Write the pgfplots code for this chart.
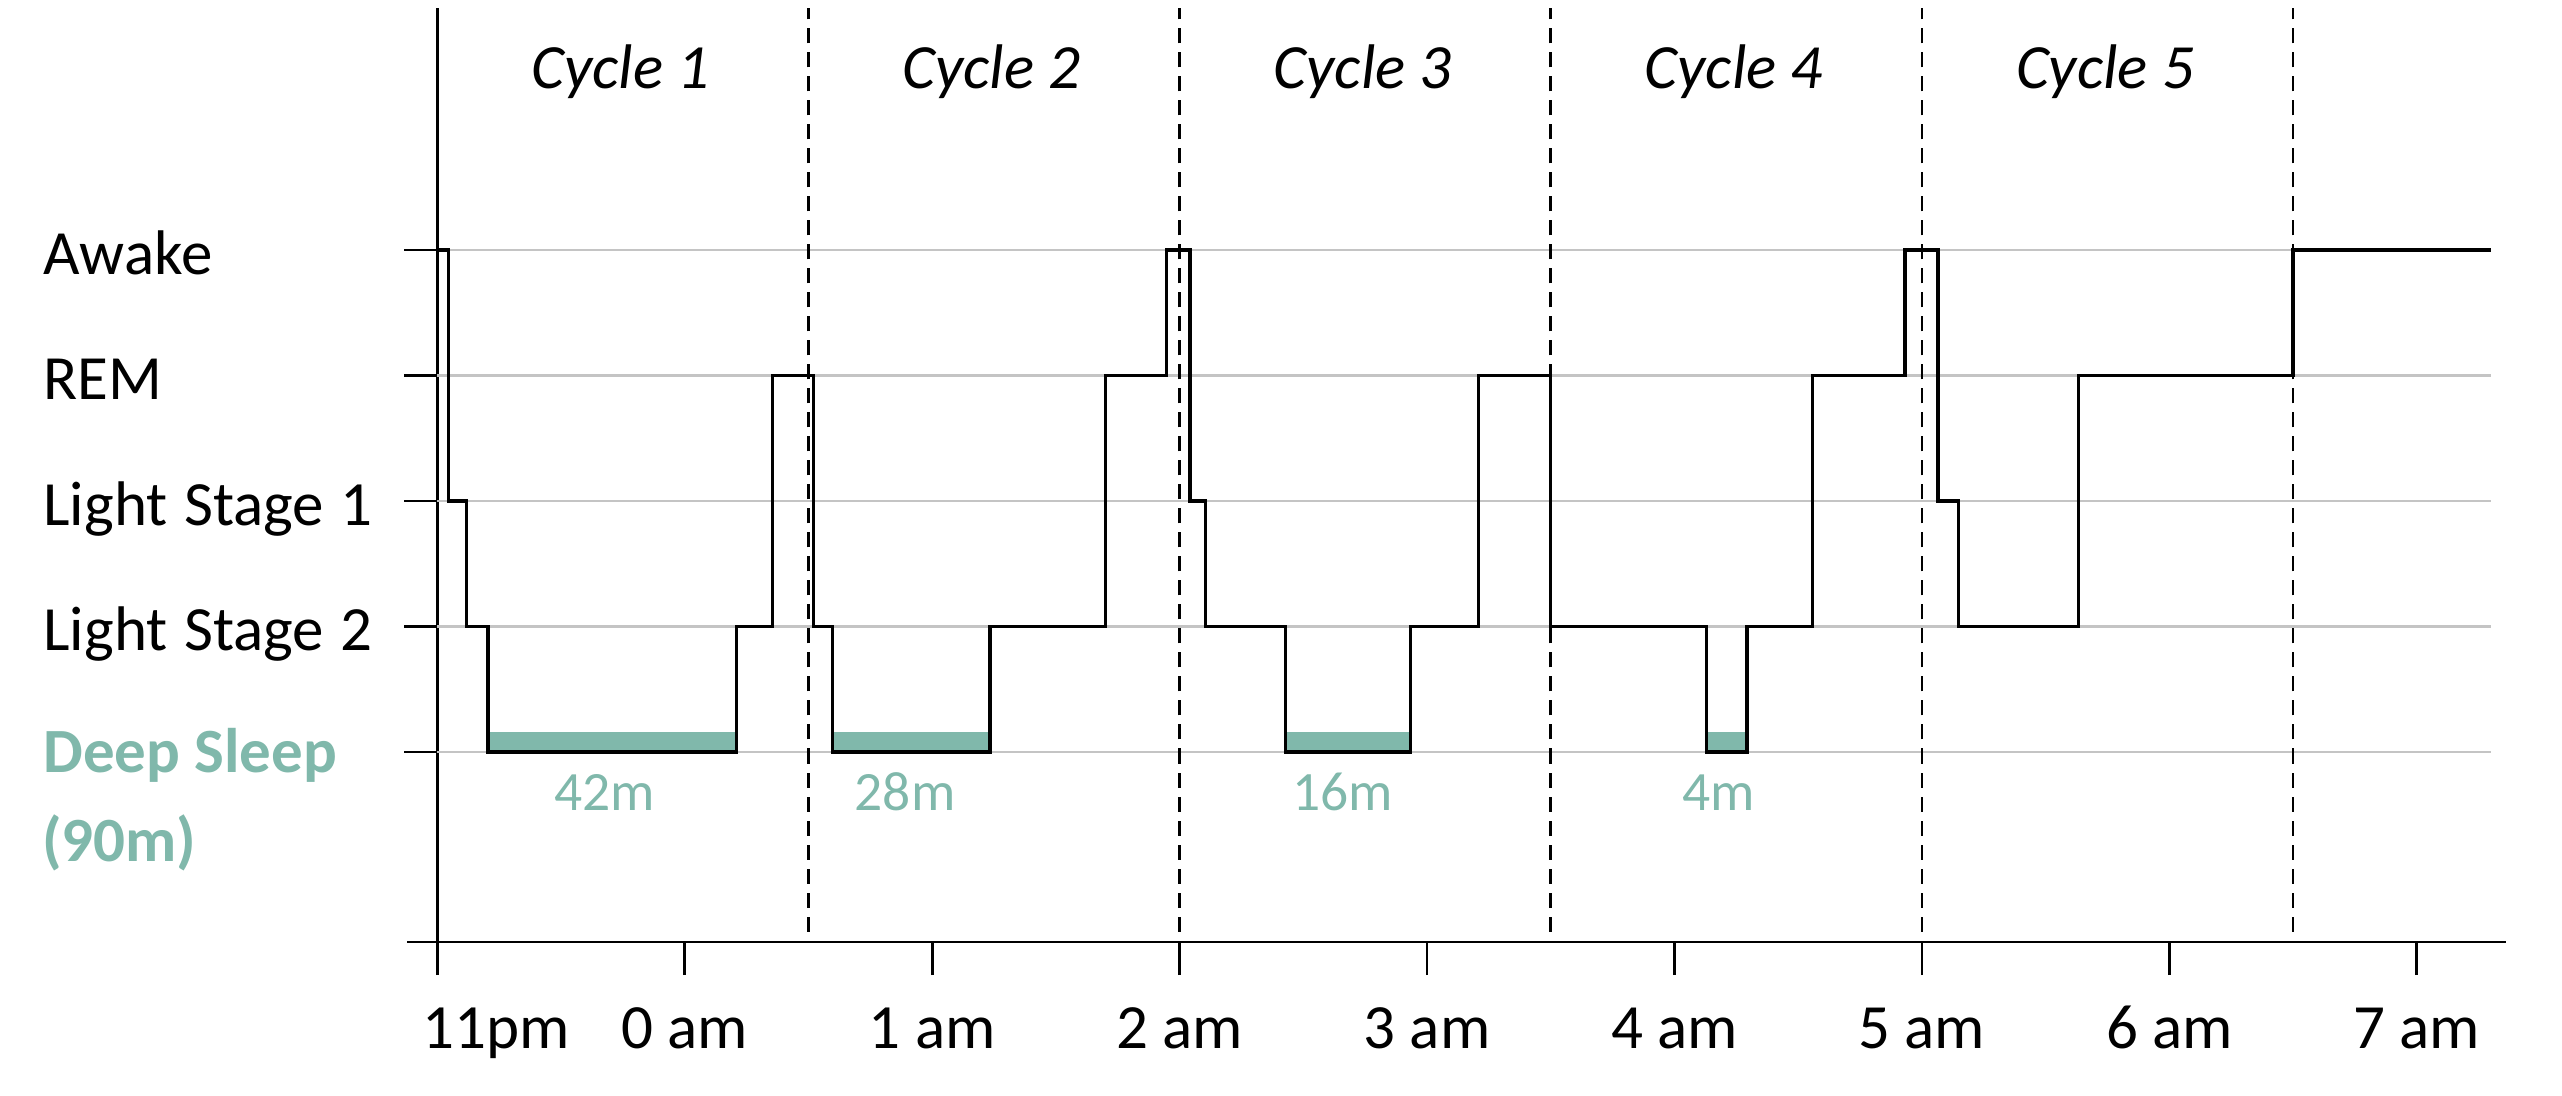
\documentclass[border=0pt]{standalone}
\usepackage{fontspec}
\setmainfont{Carlito}
\usepackage{pgfplots}
\pgfplotsset{compat=1.18}
\definecolor{deep}{HTML}{80B8AB}
\definecolor{gridgray}{HTML}{C4C4C4}

% sleep stage levels: 0 deep, 1 light 2, 2 light 1, 3 REM, 4 awake
% x = hours after 11pm
\pgfplotstableread{
x     y
0     4
0.045 2
0.118 1
0.204 0
1.209 1
1.355 3
1.520 1
1.597 0
2.233 1
2.700 3
2.947 4
3.042 2
3.104 1
3.427 0
3.932 1
4.207 3
4.500 1
5.130 0
5.293 1
5.557 3
5.932 4
6.065 2
6.147 1
6.633 3
7.500 4
8.300 4
}\stages

\begin{document}
\begin{tikzpicture}
\begin{axis}[
    scale only axis,
    width=689.4pt, height=311.4pt,
    xmin=0, xmax=8.36, ymin=-1.514, ymax=5.93,
    axis lines=left,
    axis line style={-, line width=0.9pt},
    tick align=outside,
    major tick length=11pt,
    tick style={black, line width=0.9pt},
    xtick={0,...,8},
    xticklabels={\hspace{39pt}11pm, 0 am, 1 am, 2 am, 3 am, 4 am, 5 am, 6 am, 7 am},
    ytick={0,1,2,3,4},
    yticklabels={{\raisebox{1.3pt}{\bfseries\color{deep}Deep Sleep}},
                 Light\hspace{5.5pt}Stage\hspace{5.5pt}2,
                 Light\hspace{5.5pt}Stage\hspace{5.5pt}1, REM, Awake},
    ticklabel style={font=\fontsize{21}{25}\selectfont, inner sep=0pt},
    yticklabel style={anchor=base west, xshift=-120.5pt, yshift=-8pt},
    xticklabel style={anchor=base, yshift=-24.5pt},
    clip=false,
  ]
% grid lines
\pgfplotsinvokeforeach{0,1,2,3,4}{
  \draw[gridgray, line width=0.8pt] (axis cs:0,#1) -- (axis cs:8.30,#1);
}
% x axis runs a little past the y axis
\draw[line width=0.9pt] (axis cs:0,-1.514) -- ++(-10pt,0pt);

% deep sleep bars
\addplot[fill=deep, draw=none] coordinates {(0.204,0.015) (0.204,0.16) (1.215,0.16) (1.215,0.015)} -- cycle;
\addplot[fill=deep, draw=none] coordinates {(1.597,0.015) (1.597,0.16) (2.238,0.16) (2.238,0.015)} -- cycle;
\addplot[fill=deep, draw=none] coordinates {(3.427,0.015) (3.427,0.16) (3.937,0.16) (3.937,0.015)} -- cycle;
\addplot[fill=deep, draw=none] coordinates {(5.130,0.015) (5.130,0.16) (5.298,0.16) (5.298,0.015)} -- cycle;

% cycle boundaries
\pgfplotsinvokeforeach{1.5,3,4.5,6,7.5}{
  \draw[dash pattern=on 5pt off 3pt, line width=0.9pt] (axis cs:#1,-1.43) -- (axis cs:#1,5.93);
}

\addplot[const plot, black, line width=1.1pt] table[x=x, y=y] {\stages};

\node[anchor=base, font=\fontsize{21}{25}\selectfont\itshape] at (axis cs:0.74,5.29) {Cycle 1};
\node[anchor=base, font=\fontsize{21}{25}\selectfont\itshape] at (axis cs:2.24,5.29) {Cycle 2};
\node[anchor=base, font=\fontsize{21}{25}\selectfont\itshape] at (axis cs:3.74,5.29) {Cycle 3};
\node[anchor=base, font=\fontsize{21}{25}\selectfont\itshape] at (axis cs:5.24,5.29) {Cycle 4};
\node[anchor=base, font=\fontsize{21}{25}\selectfont\itshape] at (axis cs:6.74,5.29) {Cycle 5};

\node[anchor=base, text=deep, font=\fontsize{18.5}{22}\selectfont] at (axis cs:0.677,-0.462) {42m};
\node[anchor=base, text=deep, font=\fontsize{18.5}{22}\selectfont] at (axis cs:1.89,-0.462) {28m};
\node[anchor=base, text=deep, font=\fontsize{18.5}{22}\selectfont] at (axis cs:3.66,-0.462) {16m};
\node[anchor=base, text=deep, font=\fontsize{18.5}{22}\selectfont] at (axis cs:5.18,-0.462) {4m};

\node[anchor=base west, inner sep=0pt, text=deep, font=\fontsize{21}{25}\selectfont\bfseries] at (axis cs:-1.60,-0.876) {(90m)};

\coordinate (bbll) at (axis cs:-1.768,-2.733);
\coordinate (bbur) at (axis cs:8.587,5.992);
\end{axis}
\pgfresetboundingbox
\useasboundingbox (bbll) rectangle (bbur);
\end{tikzpicture}
\end{document}
